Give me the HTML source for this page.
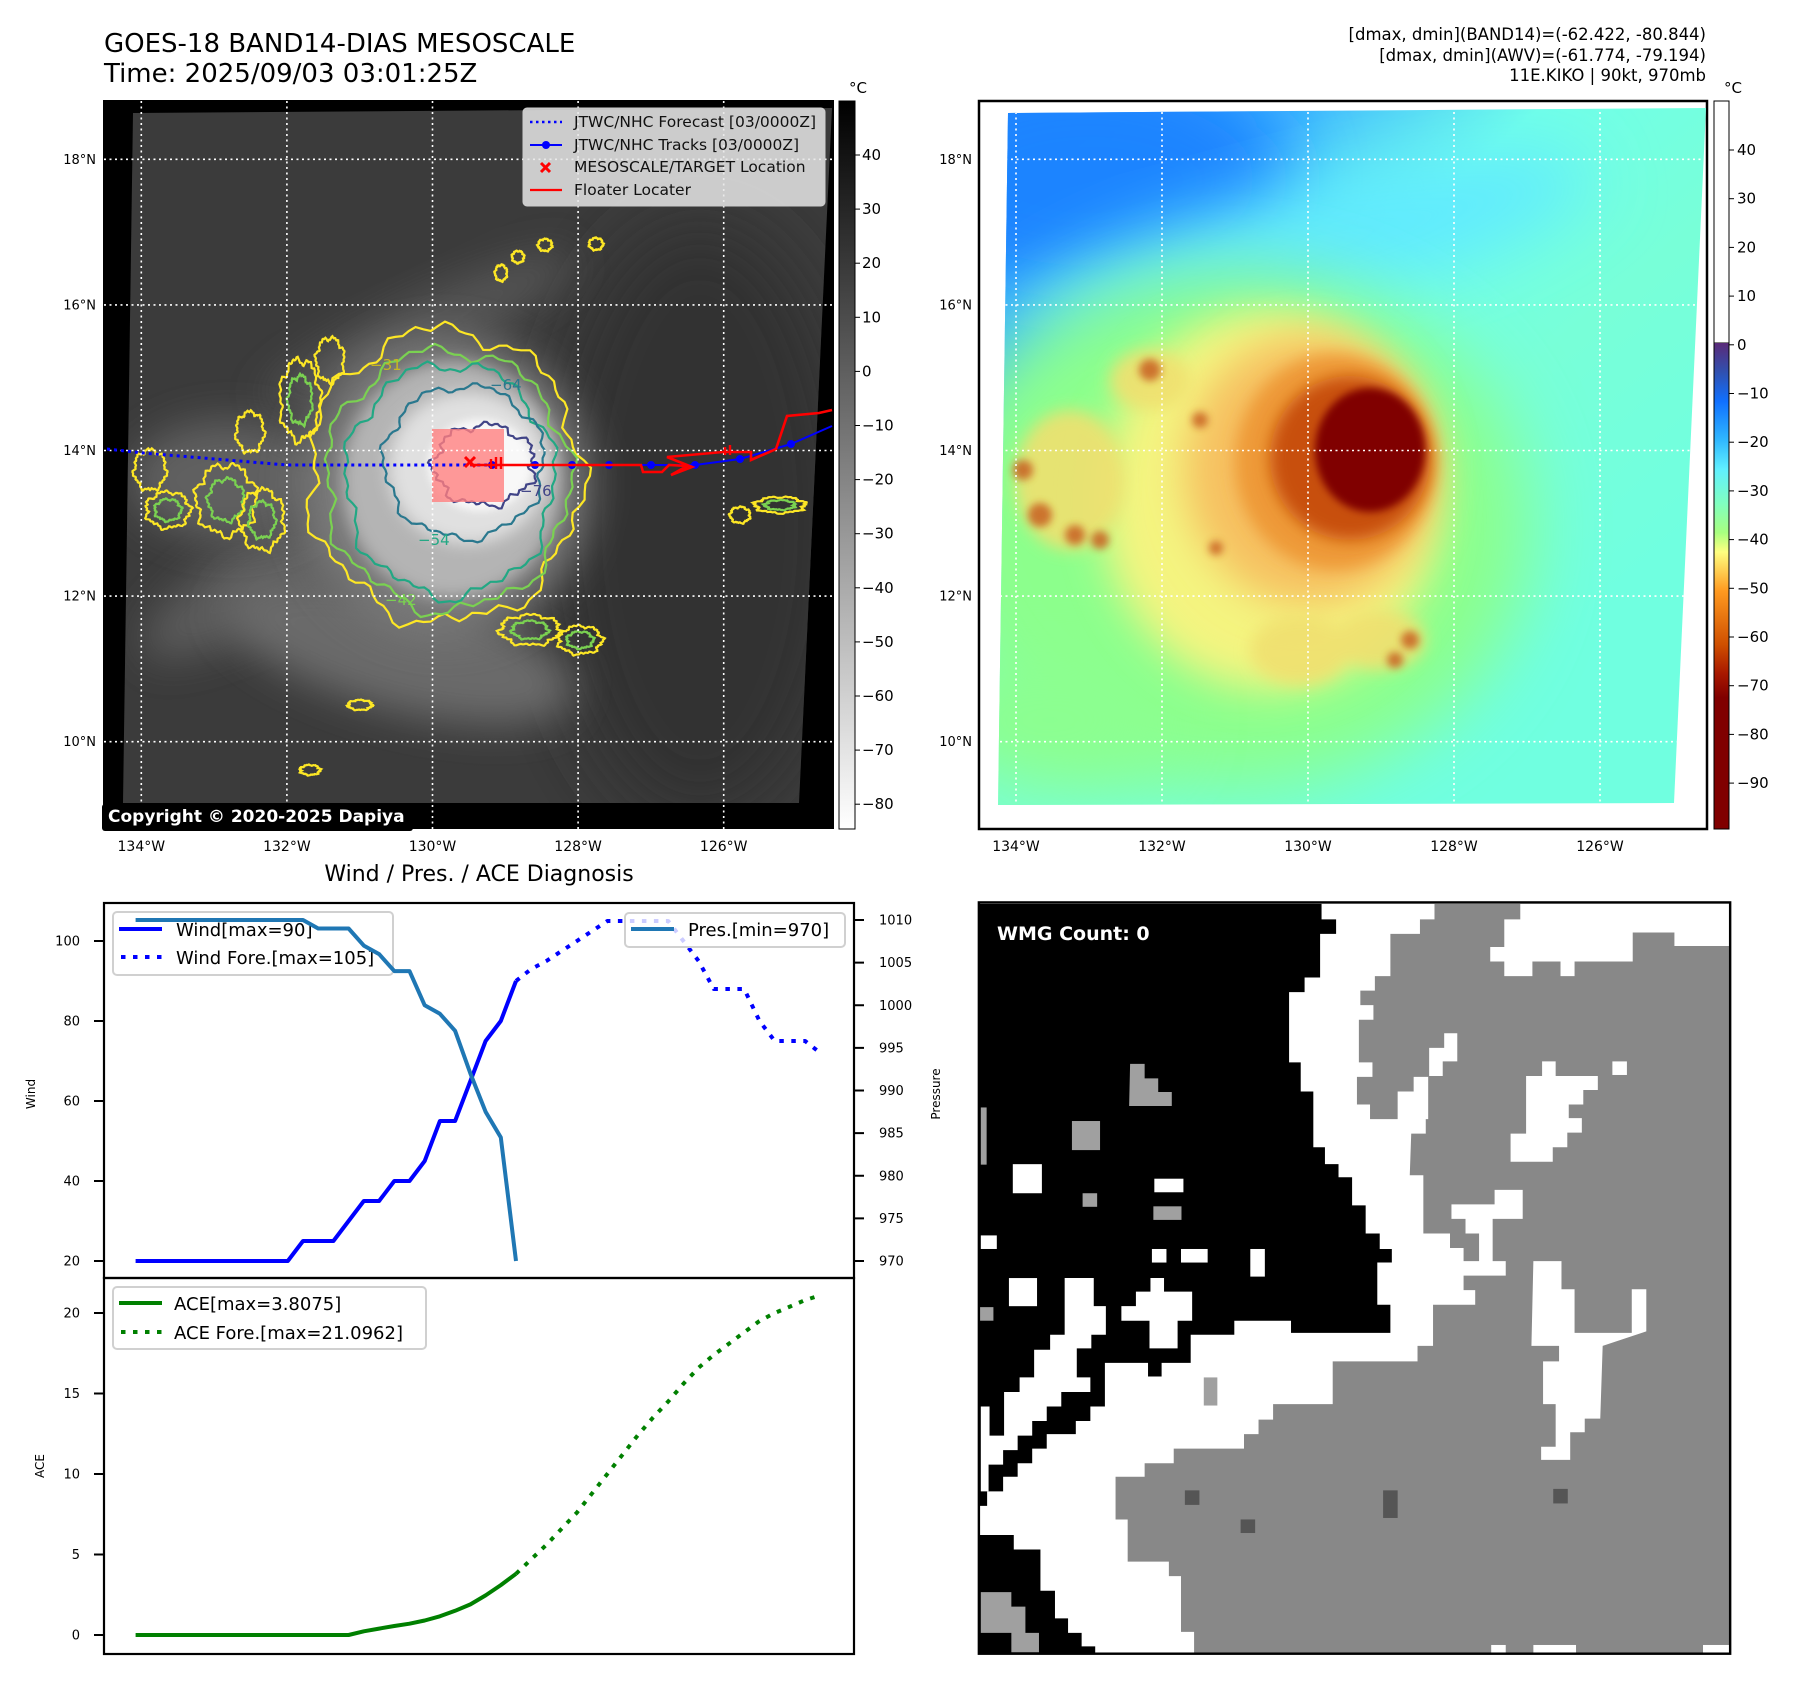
<!DOCTYPE html>
<html><head><meta charset="utf-8"><style>
html,body{margin:0;padding:0;background:#fff}
svg{display:block}
text{font-family:"DejaVu Sans","Liberation Sans",sans-serif}
</style></head><body>
<svg id="root" width="1797" height="1690" viewBox="0 0 1797 1690" xmlns="http://www.w3.org/2000/svg">
<defs>
 <filter id="b4" x="-50%" y="-50%" width="200%" height="200%"><feGaussianBlur stdDeviation="4"/></filter>
 <filter id="b8" x="-50%" y="-50%" width="200%" height="200%"><feGaussianBlur stdDeviation="8"/></filter>
 <filter id="b20" x="-50%" y="-50%" width="200%" height="200%"><feGaussianBlur stdDeviation="20"/></filter>
 <filter id="b35" x="-50%" y="-50%" width="200%" height="200%"><feGaussianBlur stdDeviation="35"/></filter>
 <clipPath id="clipL"><polygon points="133,113 832,108 799,803 123,803"/></clipPath>
 <clipPath id="clipR"><polygon points="1008,113 1706,108 1674,803 998,805"/></clipPath>
 <linearGradient id="cbGray" x1="0" y1="0" x2="0" y2="1"><stop offset="0" stop-color="#000"/><stop offset="1" stop-color="#fff"/></linearGradient>
 <linearGradient id="cbJet" x1="0" y1="343" x2="0" y2="829" gradientUnits="userSpaceOnUse">
  <stop offset="0" stop-color="#5a2a78"/><stop offset="0.06" stop-color="#3050b0"/><stop offset="0.12" stop-color="#1070ff"/>
  <stop offset="0.2" stop-color="#30b8ff"/><stop offset="0.26" stop-color="#60f0ff"/><stop offset="0.33" stop-color="#80ffc0"/>
  <stop offset="0.39" stop-color="#a8ff80"/><stop offset="0.43" stop-color="#ffff80"/><stop offset="0.51" stop-color="#ff9a20"/>
  <stop offset="0.62" stop-color="#d05000"/><stop offset="0.68" stop-color="#a81800"/><stop offset="0.73" stop-color="#800000"/><stop offset="1" stop-color="#800000"/>
 </linearGradient>
 <linearGradient id="rbg" x1="1000" y1="110" x2="1500" y2="700" gradientUnits="userSpaceOnUse">
  <stop offset="0" stop-color="#1a88ff"/><stop offset="0.25" stop-color="#40b8ff"/><stop offset="0.45" stop-color="#70ffe8"/><stop offset="0.7" stop-color="#78ffd8"/><stop offset="1" stop-color="#70ffe0"/>
 </linearGradient>
</defs>

<text x="104" y="52" font-size="26">GOES-18 BAND14-DIAS MESOSCALE</text>
<text x="104" y="82" font-size="26">Time: 2025/09/03 03:01:25Z</text>
<g font-size="16.5" text-anchor="end">
 <text x="1706" y="40">[dmax, dmin](BAND14)=(-62.422, -80.844)</text>
 <text x="1706" y="61">[dmax, dmin](AWV)=(-61.774, -79.194)</text>
 <text x="1706" y="81">11E.KIKO | 90kt, 970mb</text>
</g>

<!-- LEFT MAP -->
<g>
 <rect x="103" y="100" width="731" height="729" fill="#000"/>
 <g clip-path="url(#clipL)">
  <rect x="100" y="100" width="740" height="720" fill="#3b3b3b"/>
  <ellipse cx="700" cy="520" rx="150" ry="300" fill="#333" filter="url(#b35)"/>
  <ellipse cx="300" cy="560" rx="180" ry="45" fill="#5c5c5c" filter="url(#b20)" transform="rotate(-30 300 560)"/>
  <ellipse cx="400" cy="650" rx="180" ry="60" fill="#6a6a6a" filter="url(#b20)" transform="rotate(15 400 650)"/>
  <ellipse cx="420" cy="330" rx="170" ry="30" fill="#555" filter="url(#b20)" transform="rotate(-25 420 330)"/>
  <ellipse cx="230" cy="480" rx="100" ry="60" fill="#606060" filter="url(#b20)"/>
  <ellipse cx="445" cy="485" rx="145" ry="150" fill="#7a7a7a" filter="url(#b20)"/>
  <ellipse cx="452" cy="480" rx="110" ry="118" fill="#b4b4b4" filter="url(#b8)"/>
  <ellipse cx="468" cy="468" rx="80" ry="76" fill="#e0e0e0" filter="url(#b8)"/>
  <ellipse cx="480" cy="465" rx="52" ry="46" fill="#f8f8f8" filter="url(#b4)"/>
 </g>
 <g id="contours" fill="none" stroke-width="2.2"></g>
 <rect x="432" y="429" width="72" height="73" fill="#ff8080" opacity="0.8"/>
 <g id="gridL" stroke="#fff" stroke-width="1.6" stroke-dasharray="2,3.5"></g>
 <g>
  <polyline points="107,449 143,453 287,465 492,465" fill="none" stroke="#0000ff" stroke-width="3" stroke-dasharray="3,4"/>
  <polyline points="492,465 651,465 695,465 740,459 791,444 832,426" fill="none" stroke="#0000ff" stroke-width="2"/>
  <g fill="#0000ff"><circle cx="492" cy="465" r="4"/><circle cx="535" cy="465" r="4"/><circle cx="572" cy="465" r="4"/><circle cx="609" cy="465" r="4"/><circle cx="651" cy="465" r="4"/><circle cx="695" cy="465" r="4"/><circle cx="740" cy="459" r="4"/><circle cx="791" cy="444" r="4"/></g>
  <polyline points="470,465 641,465 643,472 662,472 669,465 687,466 671,475 692,467 667,457 723,452 751,452 751,460 776,449 787,416 819,413 832,410" fill="none" stroke="#ff0000" stroke-width="2.6"/>
  <path d="M491,459 v10 M496,457 v12 M501,457 v12 M725,447 v8 M730,445 v10" stroke="#ff0000" stroke-width="2.4"/>
  <path d="M465,457 l10,10 M475,457 l-10,10" stroke="#ff0000" stroke-width="3"/>
 </g>
 <g>
  <rect x="523" y="108" width="302" height="98" rx="4" fill="#e6e6e6" fill-opacity="0.85" stroke="#ccc"/>
  <line x1="530" y1="122" x2="562" y2="122" stroke="#00f" stroke-width="2.4" stroke-dasharray="2.5,3.5"/>
  <line x1="530" y1="145" x2="562" y2="145" stroke="#00f" stroke-width="2"/><circle cx="546" cy="145" r="4" fill="#00f"/>
  <path d="M541,163 l9,9 M550,163 l-9,9" stroke="#f00" stroke-width="3"/>
  <line x1="530" y1="190" x2="562" y2="190" stroke="#f00" stroke-width="2.2"/>
  <g font-size="15.5" fill="#111">
   <text x="574" y="127">JTWC/NHC Forecast [03/0000Z]</text>
   <text x="574" y="150">JTWC/NHC Tracks [03/0000Z]</text>
   <text x="574" y="172">MESOSCALE/TARGET Location</text>
   <text x="574" y="195">Floater Locater</text>
  </g>
 </g>
 <rect x="102" y="804" width="311" height="27" rx="3" fill="#000"/>
 <text x="108" y="822" font-size="17" font-weight="bold" fill="#fff">Copyright © 2020-2025 Dapiya</text>
 <rect x="839" y="101" width="16" height="728" fill="url(#cbGray)" stroke="#000" stroke-width="1"/>
 <text x="849" y="93" font-size="15">°C</text>
 <g id="cbLticks" font-size="15"></g>
 <g id="latL" font-size="13" text-anchor="end"></g>
 <g id="lonL" font-size="14" text-anchor="middle"></g>
</g>

<!-- RIGHT MAP -->
<g>
 <rect x="979" y="101" width="728" height="728" fill="#fff" stroke="#000" stroke-width="2.5"/>
 <g clip-path="url(#clipR)">
  <rect x="990" y="100" width="730" height="710" fill="url(#rbg)"/>
  <ellipse cx="1090" cy="180" rx="200" ry="120" fill="#1a84ff" filter="url(#b35)"/>
  <ellipse cx="1300" cy="250" rx="300" ry="60" fill="#60eaff" filter="url(#b35)" transform="rotate(-15 1300 250)"/>
  <ellipse cx="1230" cy="530" rx="300" ry="260" fill="#8cff8c" filter="url(#b35)"/>
  <ellipse cx="1050" cy="720" rx="120" ry="70" fill="#8cff90" filter="url(#b35)"/>
  <ellipse cx="1270" cy="500" rx="170" ry="190" fill="#f4f480" filter="url(#b20)"/>
  <ellipse cx="1310" cy="470" rx="125" ry="135" fill="#f6c060" filter="url(#b20)"/>
  <ellipse cx="1335" cy="462" rx="100" ry="108" fill="#ee9a38" filter="url(#b8)"/>
  <ellipse cx="1350" cy="458" rx="80" ry="82" fill="#c85010" filter="url(#b8)"/>
  <ellipse cx="1370" cy="450" rx="55" ry="62" fill="#800000" filter="url(#b4)"/>
  <g fill="#f0e070" filter="url(#b8)" opacity="0.9">
   <ellipse cx="1070" cy="480" rx="55" ry="70"/><ellipse cx="1150" cy="380" rx="40" ry="30"/><ellipse cx="1380" cy="640" rx="45" ry="30"/><ellipse cx="1300" cy="650" rx="50" ry="35"/>
  </g>
  <g fill="#c86020" filter="url(#b4)" opacity="0.85">
   <circle cx="1023" cy="470" r="10"/><circle cx="1040" cy="515" r="12"/><circle cx="1075" cy="535" r="10"/><circle cx="1100" cy="540" r="9"/><circle cx="1150" cy="370" r="11"/><circle cx="1200" cy="420" r="8"/><circle cx="1410" cy="640" r="9"/><circle cx="1395" cy="660" r="8"/><circle cx="1216" cy="548" r="7"/>
  </g>
 </g>
 <g id="gridR" stroke="#fff" stroke-width="1.6" stroke-dasharray="2,3.5"></g>
 <rect x="1714" y="101" width="15" height="242" fill="#fff" stroke="#000"/>
 <rect x="1714" y="343" width="15" height="486" fill="url(#cbJet)"/>
 <rect x="1714" y="101" width="15" height="728" fill="none" stroke="#000"/>
 <text x="1724" y="93" font-size="15">°C</text>
 <g id="cbRticks" font-size="15"></g>
 <g id="latR" font-size="13" text-anchor="end"></g>
 <g id="lonR" font-size="14" text-anchor="middle"></g>
</g>

<!-- WMG -->
<g>
 <svg x="975" y="900" width="760" height="760" viewBox="0 0 1568 1568">
  <rect x="8" y="8" width="1550" height="1547" fill="#888"/>
  <polygon fill="#fff" points="700,8 948,8 948,40 918,40 918,70 857,70 857,157 825,157 825,187 795,187 795,217 822,217 822,247 792,247 792,335 820,335 820,365 788,365 788,422 815,422 815,452 872,452 872,395 905,395 905,365 935,365 935,452 930,452 930,482 900,482 897,568 925,568 925,688 980,688 980,718 1008,718 1008,775 1095,775 1095,745 1008,745 1008,805 1032,805 1032,835 945,835 945,920 913,920 913,952 738,952 738,1040 615,1040 615,1072 585,1072 585,1102 555,1102 555,1132 410,1132 410,1162 350,1162 350,1190 290,1190 290,1278 315,1278 315,1365 400,1365 400,1395 425,1395 425,1510 452,1510 452,1555 8,1555 8,1000"/>
  <polygon fill="#000" points="8,8 715,8 715,40 745,40 745,70 712,70 712,160 680,160 680,190 648,190 648,335 672,335 672,395 698,395 698,510 722,510 722,545 750,545 750,572 778,572 778,630 806,630 806,688 835,688 835,720 860,720 860,748 830,748 830,835 857,835 857,893 652,893 652,868 535,868 535,897 445,897 445,955 385,955 385,983 357,983 357,955 268,955 268,1045 238,1045 238,1075 208,1075 208,1102 148,1102 148,1132 118,1132 118,1162 88,1162 88,1190 58,1190 58,1220 25,1220 25,1250 8,1250"/>
  <polygon fill="#fff" points="185,780 245,780 245,838 270,838 270,897 240,897 240,925 210,925 210,985 238,985 238,1015 178,1015 178,1045 148,1045 148,1075 118,1075 118,1105 88,1105 88,1135 58,1135 58,1165 28,1165 28,1220 12,1220 12,1045 30,1045 30,1105 60,1105 60,1015 92,1015 92,985 122,985 122,928 155,928 155,897 185,897"/>
  <polygon fill="#000" points="8,1310 80,1310 80,1340 135,1340 135,1425 165,1425 165,1482 192,1482 192,1512 220,1512 220,1540 248,1540 248,1555 8,1555"/>
  <polygon fill="#fff" points="302,838 332,838 332,808 362,808 362,780 390,780 390,808 448,808 448,868 418,868 418,925 360,925 360,868 302,868"/>
  <g fill="#fff">
   <rect x="78" y="545" width="60" height="60"/><rect x="370" y="575" width="60" height="28"/><rect x="365" y="720" width="30" height="28"/><rect x="425" y="720" width="55" height="28"/><rect x="568" y="720" width="30" height="57"/><rect x="70" y="780" width="58" height="58"/><rect x="12" y="692" width="33" height="28"/><rect x="1315" y="333" width="30" height="28"/>
   <rect x="1065" y="1537" width="30" height="18"/><rect x="1152" y="1537" width="88" height="18"/><rect x="1502" y="1537" width="55" height="18"/>
  </g>
  <g fill="#a0a0a0">
   <polygon points="320,338 350,338 350,368 378,368 378,396 406,396 406,425 318,425"/>
   <rect x="200" y="456" width="58" height="60"/><rect x="222" y="605" width="30" height="28"/><rect x="368" y="632" width="58" height="28"/><rect x="10" y="840" width="28" height="28"/><rect x="12" y="428" width="12" height="118"/><rect x="472" y="985" width="28" height="58"/>
   <polygon points="12,1428 75,1428 75,1458 104,1458 104,1512 132,1512 132,1552 75,1552 75,1512 12,1512"/>
  </g>
  <g fill="#fff">
   <polygon points="1125,8 1560,8 1560,95 1443,95 1443,67 1357,67 1357,127 1237,127 1237,157 1208,157 1208,127 1150,127 1150,157 1092,157 1092,127 1063,127 1063,97 1092,97 1092,40 1125,40"/>
   <polygon points="1170,333 1198,333 1198,363 1285,363 1285,392 1255,392 1255,422 1225,422 1225,450 1252,450 1252,480 1222,480 1222,510 1192,510 1192,540 1105,540 1105,482 1137,482 1137,363 1170,363"/>
   <polygon points="968,275 995,275 995,333 965,333 965,363 937,363 937,305 968,305"/>
   <polygon points="1072,598 1130,598 1130,658 1068,658 1068,748 1040,748 1040,688 1012,688 1012,658 983,658 983,628 1072,628"/>
   <polygon points="1152,745 1210,745 1210,803 1237,803 1237,893 1355,893 1355,803 1385,803 1385,890 1295,920 1290,1070 1258,1070 1258,1098 1228,1098 1228,1155 1168,1155 1168,1128 1198,1128 1198,1040 1172,1040 1172,952 1205,952 1205,920 1148,920"/>
  </g>
  <g fill="#555"><rect x="433" y="1218" width="30" height="30"/><rect x="842" y="1218" width="30" height="57"/><rect x="548" y="1278" width="30" height="28"/><rect x="1193" y="1215" width="30" height="30"/></g>
  <rect x="8" y="5" width="1550" height="1550" fill="none" stroke="#000" stroke-width="5"/>
 </svg>
 <text x="997" y="940" font-size="19" font-weight="bold" fill="#fff">WMG Count: 0</text>
</g>

<text x="479" y="881" font-size="22" text-anchor="middle">Wind / Pres. / ACE Diagnosis</text>
<g id="chart"></g>
</svg>

<script>
// ---- chart data ----
const obsHours = [0,6,12,18,24,30,36,42,48,54,60,66,72,78,84,90,96,102,108,114,120,126,132,138,144,150];
const fcstHours = [150,156,162,168,174,180,186,192,198,204,210,216,222,228,234,240,246,252,258,264,270];
const windObs = [20,20,20,20,20,20,20,20,20,20,20,25,25,25,30,35,35,40,40,45,55,55,65,75,80,90];
const windFcst = [90,93,95,97.5,100,102.5,105,105,105,105,105,100,95,88,88,88,80,75,75,75,72];
const presObs = [1010,1010,1010,1010,1010,1010,1010,1010,1010,1010,1010,1010,1009,1009,1009,1007,1006,1004,1004,1000,999,997,992,987.5,984.5,970];
const aceObs = [0,0,0,0,0,0,0,0,0,0,0,0,0,0,0,0.23,0.4,0.56,0.7,0.9,1.16,1.5,1.9,2.46,3.1,3.8];
const aceFcst = [3.8,4.7,5.6,6.6,7.6,8.8,10,11.2,12.4,13.5,14.5,15.6,16.6,17.4,18.1,18.8,19.5,20,20.4,20.8,21.1];
const windTicks = [20,40,60,80,100];
const presTicks = [970,975,980,985,990,995,1000,1005,1010];
const aceTicks = [0,5,10,15,20];
const irCbTicks = [40,30,20,10,0,-10,-20,-30,-40,-50,-60,-70,-80];
const awvCbTicks = [40,30,20,10,0,-10,-20,-30,-40,-50,-60,-70,-80,-90];
const latTicks = [18,16,14,12,10];
const lonTicks = [134,132,130,128,126];

const NS = 'http://www.w3.org/2000/svg';
function mk(tag, attrs, parent){const e=document.createElementNS(NS,tag);for(const k in attrs)e.setAttribute(k,attrs[k]);parent.appendChild(e);return e;}

const xH = h => 135.6 + h*2.536;
const yW = v => 941 + (100-v)*4.0;
const yP = p => 920 + (1010-p)*8.525;
const yA = a => 1635 - a*16.1;

const latY = lat => 450.5 + (14-lat)*72.8;
const lonXL = lon => 432.5 + (130-lon)*72.8;
const lonXR = lon => 1308 + (130-lon)*73;

const chart = document.getElementById('chart');
function line(xs, ys, attrs, name){
  const pts = xs.map((x,i)=>x.toFixed(1)+','+ys[i].toFixed(1)).join(' ');
  const el = mk('polyline', Object.assign({points:pts, fill:'none', 'stroke-linejoin':'round'}, attrs), chart);
  
  
  return el;
}
mk('rect',{x:104,y:903,width:750,height:375,fill:'#fff'},chart);
mk('rect',{x:104,y:1278,width:750,height:376,fill:'#fff'},chart);

line(obsHours.map(xH), windObs.map(yW), {stroke:'#0000ff','stroke-width':4}, 'wind-line');
line(fcstHours.map(xH), windFcst.map(yW), {stroke:'#0000ff','stroke-width':4,'stroke-dasharray':'4.5,7.5'}, 'wind-forecast-line');
const lg1 = mk('g',{},chart);


mk('rect',{x:113,y:912,width:280,height:63,rx:4,fill:'#fff','fill-opacity':0.8,stroke:'#d0d0d0','stroke-width':2},lg1);
mk('line',{x1:119,y1:929,x2:162,y2:929,stroke:'#00f','stroke-width':4},lg1);
mk('line',{x1:121,y1:957,x2:162,y2:957,stroke:'#00f','stroke-width':4,'stroke-dasharray':'4.5,7.5'},lg1);
let t=mk('text',{x:176,y:936,'font-size':18},lg1); t.textContent='Wind[max=90]';
t=mk('text',{x:176,y:964,'font-size':18},lg1); t.textContent='Wind Fore.[max=105]';
line(obsHours.map(xH), presObs.map(yP), {stroke:'#1f77b4','stroke-width':4}, 'pressure-line');
const lg2 = mk('g',{},chart);


mk('rect',{x:625,y:913,width:220,height:34,rx:4,fill:'#fff','fill-opacity':0.8,stroke:'#d0d0d0','stroke-width':2},lg2);
mk('line',{x1:631,y1:929,x2:674,y2:929,stroke:'#1f77b4','stroke-width':4},lg2);
t=mk('text',{x:688,y:936,'font-size':18},lg2); t.textContent='Pres.[min=970]';
line(obsHours.map(xH), aceObs.map(yA), {stroke:'#008000','stroke-width':4}, 'ace-line');
line(fcstHours.map(xH), aceFcst.map(yA), {stroke:'#008000','stroke-width':4,'stroke-dasharray':'4.5,7.5'}, 'ace-forecast-line');
const lg3 = mk('g',{},chart);


mk('rect',{x:113,y:1287,width:313,height:62,rx:4,fill:'#fff','fill-opacity':0.8,stroke:'#d0d0d0','stroke-width':2},lg3);
mk('line',{x1:119,y1:1303,x2:162,y2:1303,stroke:'#008000','stroke-width':4},lg3);
mk('line',{x1:121,y1:1332,x2:162,y2:1332,stroke:'#008000','stroke-width':4,'stroke-dasharray':'4.5,7.5'},lg3);
t=mk('text',{x:174,y:1310,'font-size':18},lg3); t.textContent='ACE[max=3.8075]';
t=mk('text',{x:174,y:1339,'font-size':18},lg3); t.textContent='ACE Fore.[max=21.0962]';
mk('rect',{x:104,y:903,width:750,height:375,fill:'none',stroke:'#000','stroke-width':2.2},chart);
mk('rect',{x:104,y:1278,width:750,height:376,fill:'none',stroke:'#000','stroke-width':2.2},chart);
windTicks.forEach(v=>{const y=yW(v);mk('line',{x1:94,y1:y,x2:104,y2:y,stroke:'#000','stroke-width':2},chart);
  const e=mk('text',{x:80,y:y+4.5,'font-size':13,'text-anchor':'end'},chart);e.textContent=v;});
presTicks.forEach(v=>{const y=yP(v);mk('line',{x1:854,y1:y,x2:864,y2:y,stroke:'#000','stroke-width':2},chart);
  const e=mk('text',{x:879,y:y+4.5,'font-size':13},chart);e.textContent=v;});
aceTicks.forEach(v=>{const y=yA(v);mk('line',{x1:94,y1:y,x2:104,y2:y,stroke:'#000','stroke-width':2},chart);
  const e=mk('text',{x:80,y:y+4.5,'font-size':13,'text-anchor':'end'},chart);e.textContent=v;});
t=mk('text',{x:0,y:0,'font-size':12,'text-anchor':'middle',transform:'translate(35,1094) rotate(-90)'},chart);t.textContent='Wind';


t=mk('text',{x:0,y:0,'font-size':12,'text-anchor':'middle',transform:'translate(44,1466) rotate(-90)'},chart);t.textContent='ACE';


t=mk('text',{x:0,y:0,'font-size':12,'text-anchor':'middle',transform:'translate(940,1094) rotate(-90)'},chart);t.textContent='Pressure';



function grids(gid, x0, x1, lonX, latG, lonG, labX){
  const g=document.getElementById(gid);
  latTicks.forEach(l=>{mk('line',{x1:x0,y1:latY(l),x2:x1,y2:latY(l)},g);
    const e=mk('text',{x:labX,y:latY(l)+4.5},document.getElementById(latG));e.textContent=l+'°N';});
  lonTicks.forEach(l=>{mk('line',{x1:lonX(l),y1:101,x2:lonX(l),y2:829},g);
    const e=mk('text',{x:lonX(l),y:851},document.getElementById(lonG));e.textContent=l+'°W';});
}
grids('gridL',104,833,lonXL,'latL','lonL',96);
grids('gridR',1000,1706,lonXR,'latR','lonR',972);
document.getElementById('gridR').setAttribute('clip-path','url(#clipR)');

const cbL = document.getElementById('cbLticks');
irCbTicks.forEach(v=>{const y=155+(40-v)*5.41;mk('line',{x1:855,y1:y,x2:860,y2:y,stroke:'#000'},cbL);
  const e=mk('text',{x:862,y:y+5},cbL);e.textContent=(v<0?'\u2212'+(-v):v);});
const cbR = document.getElementById('cbRticks');
awvCbTicks.forEach(v=>{const y=150+(40-v)*4.87;mk('line',{x1:1729,y1:y,x2:1734,y2:y,stroke:'#000'},cbR);
  const e=mk('text',{x:1737,y:y+5},cbR);e.textContent=(v<0?'\u2212'+(-v):v);});

const cg = document.getElementById('contours');
function blob(cx,cy,rx,ry,col,seed,amp){
  let d='';const n=120;
  for(let i=0;i<=n;i++){const a=i/n*Math.PI*2;
    const r=1+amp*(Math.sin(a*7+seed)*0.5+Math.sin(a*13+seed*2)*0.3+Math.sin(a*29+seed*3)*0.25);
    const x=cx+rx*r*Math.cos(a), y=cy+ry*r*Math.sin(a);
    d+=(i?'L':'M')+x.toFixed(1)+','+y.toFixed(1);}
  mk('path',{d:d+'Z',stroke:col},cg);
}
blob(445,476,136,146,'#fde725',1,0.09);
blob(448,480,122,130,'#7ad151',2,0.08);
blob(450,480,104,116,'#22a884',3,0.08);
blob(464,462,80,76,'#2a788e',4,0.08);
blob(484,465,50,40,'#414487',5,0.14);
[[150,470,16,20],[168,510,22,18],[226,500,30,35],[262,520,22,30],[250,432,14,20],[300,400,20,40],[330,360,14,22],[545,245,7,6],[596,244,7,6],[518,257,6,6],[501,273,6,8],[530,630,30,15],[580,640,22,14],[780,505,25,8],[740,515,10,8],[360,705,12,5],[310,770,10,5]].forEach((b,i)=>{
  blob(b[0],b[1],b[2],b[3],'#fde725',i*1.7,0.15);
  if(b[2]>18) blob(b[0],b[1],b[2]*0.6,b[3]*0.6,'#7ad151',i*2.3,0.15);
});
[['−31',370,370,'#c8b820'],['−64',490,390,'#2a788e'],['−76',520,496,'#414487'],['−54',418,545,'#22a884'],['−42',385,605,'#7ad151']].forEach(l=>{
  const e=mk('text',{x:l[1],y:l[2],'font-size':15,fill:l[3]},cg);e.textContent=l[0];});
</script>
</body></html>
